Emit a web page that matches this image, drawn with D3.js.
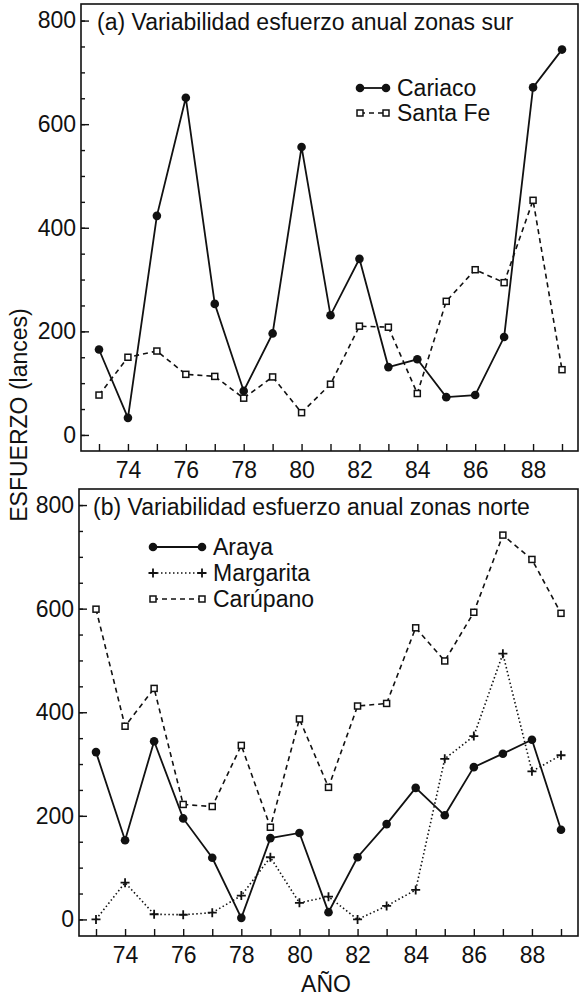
<!DOCTYPE html>
<html>
<head>
<meta charset="utf-8">
<script src="https://cdn.jsdelivr.net/npm/d3@7"></script>
<style>
  body { margin: 0; background: #fff; }
  svg text { font-family: "Liberation Sans", Arial, Helvetica, sans-serif; fill: #111; }
</style>
</head>
<body>
<div id="chart"></div>
<script>
// años 1973-1989
let anios = [73, 74, 75, 76, 77, 78, 79, 80, 81, 82, 83, 84, 85, 86, 87, 88, 89];
let etiquetasX = [74, 76, 78, 80, 82, 84, 86, 88];
let ticksY = [0, 200, 400, 600, 800];

// (a) zonas sur
let cariaco = [165, 33, 423, 651, 253, 85, 196, 556, 231, 340, 131, 146, 73, 77, 189, 671, 744];
let santaFe = [77, 150, 162, 117, 113, 71, 112, 43, 98, 210, 208, 80, 258, 319, 294, 453, 126];

// (b) zonas norte
let araya = [323, 153, 344, 195, 119, 3, 157, 167, 14, 120, 184, 254, 201, 294, 320, 347, 173];
let margarita = [0, 71, 10, 9, 13, 46, 120, 32, 44, 0, 26, 57, 310, 354, 513, 286, 317];
let carupano = [599, 373, 446, 222, 218, 336, 178, 387, 255, 412, 417, 563, 499, 593, 742, 695, 591];

let fs = 23;

let svg = d3.select('#chart')
    .append('svg')
    .attr('width', 579)
    .attr('height', 997);

function panel(cfg) {
    let x = d3.scaleLinear().domain([73, 89]).range(cfg.xr);
    let y = d3.scaleLinear().domain([cfg.ymin, cfg.ymax]).range([cfg.bottom, cfg.top]);
    let g = svg.append('g');

    // marco
    g.append('rect')
        .attr('x', cfg.left)
        .attr('y', cfg.top)
        .attr('width', 578 - cfg.left)
        .attr('height', cfg.bottom - cfg.top)
        .attr('fill', 'none')
        .attr('stroke', '#111')
        .attr('stroke-width', 1.6);

    // eje y: menores cada 50, mayores cada 200
    let yMinor = d3.axisLeft(y).tickValues(d3.range(0, 801, 50)).tickSize(-4).tickFormat('');
    g.append('g').attr('transform', 'translate(' + cfg.left + ',0)').call(yMinor);
    let yMajor = d3.axisLeft(y).tickValues(ticksY).tickSize(-8).tickPadding(5).tickFormat(d3.format('d'));
    g.append('g').attr('transform', 'translate(' + cfg.left + ',0)').call(yMajor);

    // eje x
    let xAxis = d3.axisBottom(x)
        .tickValues(anios)
        .tickSize(-7)
        .tickPadding(11)
        .tickFormat(d => etiquetasX.includes(d) ? d : '');
    g.append('g').attr('transform', 'translate(0,' + cfg.bottom + ')').call(xAxis);

    g.selectAll('.domain').remove();
    g.selectAll('.tick line').attr('stroke', '#111').attr('stroke-width', 1.4);
    g.selectAll('.tick text').style('font-size', fs + 'px');

    // series
    cfg.series.forEach(function (s) {
        let linea = d3.line().x((d, i) => x(anios[i])).y(d => y(d));
        g.append('path')
            .attr('d', linea(s.datos))
            .attr('fill', 'none')
            .attr('stroke', '#111')
            .attr('stroke-width', s.dash === 'none' ? 1.8 : 1.6)
            .attr('stroke-dasharray', s.dash);
        s.datos.forEach(function (d, i) {
            marca(g, s.marca, x(anios[i]), y(d));
        });
    });

    // titulo
    g.append('text')
        .attr('x', cfg.tx)
        .attr('y', cfg.ty)
        .style('font-size', fs + 'px')
        .text(cfg.titulo);

    // leyenda
    cfg.series.forEach(function (s, k) {
        let ly = cfg.ly + k * cfg.lstep;
        g.append('line')
            .attr('x1', cfg.lx1).attr('x2', cfg.lx2)
            .attr('y1', ly).attr('y2', ly)
            .attr('stroke', '#111')
            .attr('stroke-width', s.dash === 'none' ? 1.8 : 1.6)
            .attr('stroke-dasharray', s.dash);
        marca(g, s.marca, cfg.lx1, ly);
        marca(g, s.marca, cfg.lx2, ly);
        g.append('text')
            .attr('x', cfg.lx2 + 11)
            .attr('y', ly)
            .attr('dy', '0.36em')
            .style('font-size', fs + 'px')
            .text(s.nombre);
    });
}

function marca(g, tipo, cx, cy) {
    if (tipo === 'circulo') {
        g.append('circle').attr('cx', cx).attr('cy', cy).attr('r', 4.3).attr('fill', '#111');
    } else if (tipo === 'cuadro') {
        g.append('rect').attr('x', cx - 3).attr('y', cy - 3).attr('width', 6).attr('height', 6)
            .attr('fill', '#fff').attr('stroke', '#111').attr('stroke-width', 1.5);
    } else {
        g.append('path').attr('d', 'M' + (cx - 4.5) + ',' + cy + 'H' + (cx + 4.5) + 'M' + cx + ',' + (cy - 4.5) + 'V' + (cy + 4.5))
            .attr('stroke', '#111').attr('stroke-width', 1.8);
    }
}

panel({
    left: 81, top: 4, bottom: 451, xr: [99, 562], ymin: -31, ymax: 832,
    titulo: '(a) Variabilidad esfuerzo anual zonas sur', tx: 97, ty: 30,
    lx1: 360, lx2: 386, ly: 88, lstep: 25,
    series: [
        { nombre: 'Cariaco', datos: cariaco, marca: 'circulo', dash: 'none' },
        { nombre: 'Santa Fe', datos: santaFe, marca: 'cuadro', dash: '5,4' }
    ]
});

panel({
    left: 79, top: 489, bottom: 936, xr: [96, 561], ymin: -32, ymax: 831,
    titulo: '(b) Variabilidad esfuerzo anual zonas norte', tx: 93, ty: 515,
    lx1: 153, lx2: 202, ly: 547, lstep: 26,
    series: [
        { nombre: 'Araya', datos: araya, marca: 'circulo', dash: 'none' },
        { nombre: 'Margarita', datos: margarita, marca: 'cruz', dash: '1.5,2.5' },
        { nombre: 'Carúpano', datos: carupano, marca: 'cuadro', dash: '5,4' }
    ]
});

// titulos de ejes
svg.append('text')
    .attr('transform', 'translate(27,415) rotate(-90)')
    .attr('text-anchor', 'middle')
    .style('font-size', fs + 'px')
    .text('ESFUERZO (lances)');

svg.append('text')
    .attr('x', 326)
    .attr('y', 992)
    .attr('text-anchor', 'middle')
    .style('font-size', fs + 'px')
    .text('AÑO');
</script>
</body>
</html>
